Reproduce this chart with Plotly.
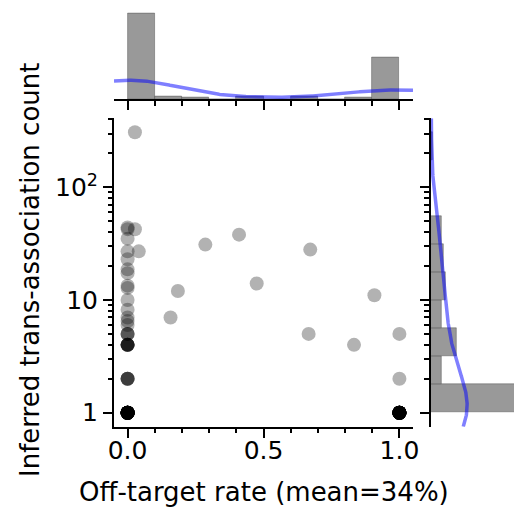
import numpy as np
import plotly.graph_objects as go

# Guides: off-target rate, inferred trans-association count, and how many guides share that pair
off_target = [0.0, 0.0, 0.0, 0.0, 0.0, 0.0, 0.0, 0.0, 0.0, 0.0, 0.0, 0.0, 0.0, 0.0, 0.0, 0.0, 0.0,
              0.0,
              0.027, 0.027, 0.041, 0.158, 0.185, 0.286, 0.41, 0.475, 0.672, 0.666, 0.833, 0.908,
              1.0, 1.0, 1.0]
trans_count = [1, 2, 4, 5, 6.0, 6.5, 7.0, 8.2, 10, 12.8, 13.4, 17.3, 18.7, 23, 27, 35, 42.5,
               44,
               308, 42.4, 27, 7, 12, 31, 38, 14, 28, 5, 4, 11,
               5, 2, 1]
n_guides = [27, 4, 6, 3, 1, 1, 1, 1, 1, 1, 1, 1, 1, 1, 1, 1, 1,
            1,
            1, 1, 1, 1, 1, 1, 1, 1, 1, 1, 1, 1,
            1, 1, 25]

N_BINS = 10

x = np.repeat(np.array(off_target, float), n_guides)
y = np.repeat(np.array(trans_count, float), n_guides)
n = len(x)
logy = np.log10(y)


def kde(values, grid, adjust=1.0):
    bw = values.std(ddof=1) * n ** (-1 / 5) * adjust
    z = (grid[:, None] - values[None, :]) / bw
    return np.exp(-0.5 * z ** 2).sum(axis=1) / (len(values) * bw * np.sqrt(2 * np.pi))


# marginal histograms
x_counts, x_edges = np.histogram(x, bins=N_BINS, range=(0, 1))
y_counts, y_edges = np.histogram(logy, bins=N_BINS, range=(logy.min(), logy.max()))
x_w = x_edges[1] - x_edges[0]
y_w = y_edges[1] - y_edges[0]

# axis ranges with 5% padding
x_lo, x_hi = x.min(), x.max()
x_pad = 0.05 * (x_hi - x_lo)
x_range = [x_lo - x_pad, x_hi + x_pad]
ly_lo, ly_hi = logy.min(), logy.max()
ly_pad = 0.05 * (ly_hi - ly_lo)
y_range = [ly_lo - ly_pad, ly_hi + ly_pad]

gx = np.linspace(x_range[0], x_range[1], 300)
gy = np.linspace(y_range[0], y_range[1], 300)
x_kde = kde(x, gx) * n * x_w
y_kde = kde(logy, gy, adjust=1.5) * n * y_w

W, H = 514, 510
px = lambda v: v / W
py = lambda v: (H - v) / H

main_x_dom = [px(114), px(413)]
main_y_dom = [py(426.7), py(118.2)]
top_y_dom = [py(99.3), py(9.5)]
right_x_dom = [px(430.7), 1.0]

BAR = "#999999"
KDE_C = "rgba(0,0,255,0.5)"
FONT = "DejaVu Sans"
FS = 25
FS_TITLE = 26

fig = go.Figure()

fig.add_trace(go.Scatter(
    x=x, y=y, mode="markers",
    marker=dict(size=14, color="rgba(0,0,0,0.3)", line=dict(width=0)),
    xaxis="x", yaxis="y", showlegend=False, hoverinfo="skip"))

fig.add_trace(go.Bar(
    x=(x_edges[:-1] + x_edges[1:]) / 2, y=x_counts, width=x_w,
    marker=dict(color=BAR, line=dict(width=0.8, color="rgba(60,60,60,0.5)")),
    xaxis="x2", yaxis="y2", showlegend=False))
fig.add_trace(go.Scatter(
    x=gx, y=x_kde, mode="lines", line=dict(color=KDE_C, width=3.5),
    xaxis="x2", yaxis="y2", showlegend=False))

fig.add_trace(go.Bar(
    y=(y_edges[:-1] + y_edges[1:]) / 2, x=y_counts, width=y_w, orientation="h",
    marker=dict(color=BAR, line=dict(width=0.8, color="rgba(60,60,60,0.5)")),
    xaxis="x3", yaxis="y3", showlegend=False))
fig.add_trace(go.Scatter(
    x=y_kde, y=gy, mode="lines", line=dict(color=KDE_C, width=3.5),
    xaxis="x3", yaxis="y3", showlegend=False))

x_major = [0, 0.5, 1.0]
x_minor = [round(v, 1) for v in np.arange(0, 1.01, 0.1)]
y_major = [1, 10, 100]
y_minor = [2, 3, 4, 5, 6, 7, 8, 9, 20, 30, 40, 50, 60, 70, 80, 90, 200, 300, 400]

tick_common = dict(ticks="outside", ticklen=9, tickwidth=2, tickcolor="black",
                   showline=True, linecolor="black", linewidth=2,
                   showgrid=False, zeroline=False, automargin=False)
minor_common = dict(ticklen=4.5, tickwidth=1.5, ticks="outside", tickcolor="black")

fig.update_layout(
    width=W, height=H, margin=dict(l=0, r=0, t=0, b=0, autoexpand=False),
    paper_bgcolor="white", plot_bgcolor="white", bargap=0,
    font=dict(family=FONT, size=FS, color="black"),
    xaxis=dict(domain=main_x_dom, anchor="y", range=x_range,
               tickvals=x_major, ticktext=["0.0", "0.5", "1.0"],
               minor=dict(tickvals=x_minor, **minor_common),
               tickfont=dict(size=FS), ticklabelstandoff=-9, **tick_common),
    yaxis=dict(domain=main_y_dom, anchor="x", type="log", range=y_range,
               tickvals=y_major, ticktext=["1", "10", "10<sup>2</sup>"],
               minor=dict(tickvals=y_minor, **minor_common),
               tickfont=dict(size=FS), **tick_common),
    xaxis2=dict(domain=main_x_dom, anchor="y2", matches="x", range=x_range,
                tickvals=x_major, showticklabels=False,
                minor=dict(tickvals=x_minor, **minor_common),
                **tick_common),
    yaxis2=dict(domain=top_y_dom, anchor="x2", range=[0, x_counts.max() * 1.05],
                visible=False, automargin=False),
    xaxis3=dict(domain=right_x_dom, anchor="y3", range=[0, 83.3 / 2.2], visible=False,
                automargin=False),
    yaxis3=dict(domain=main_y_dom, anchor="x3", range=y_range,
                tickvals=np.log10(y_major), showticklabels=False,
                minor=dict(tickvals=np.log10(y_minor), **minor_common),
                **tick_common),
)

fig.add_annotation(text=f"Off-target rate (mean={x.mean():.0%})", xref="paper", yref="paper",
                   x=px(263.5), y=py(492), showarrow=False, font=dict(size=FS_TITLE),
                   xanchor="center", yanchor="middle")
fig.add_annotation(text="Inferred trans-association count", xref="paper", yref="paper",
                   x=px(30), y=py(270), showarrow=False, textangle=-90,
                   font=dict(size=FS_TITLE), xanchor="center", yanchor="middle")

fig.write_html("out.html")
